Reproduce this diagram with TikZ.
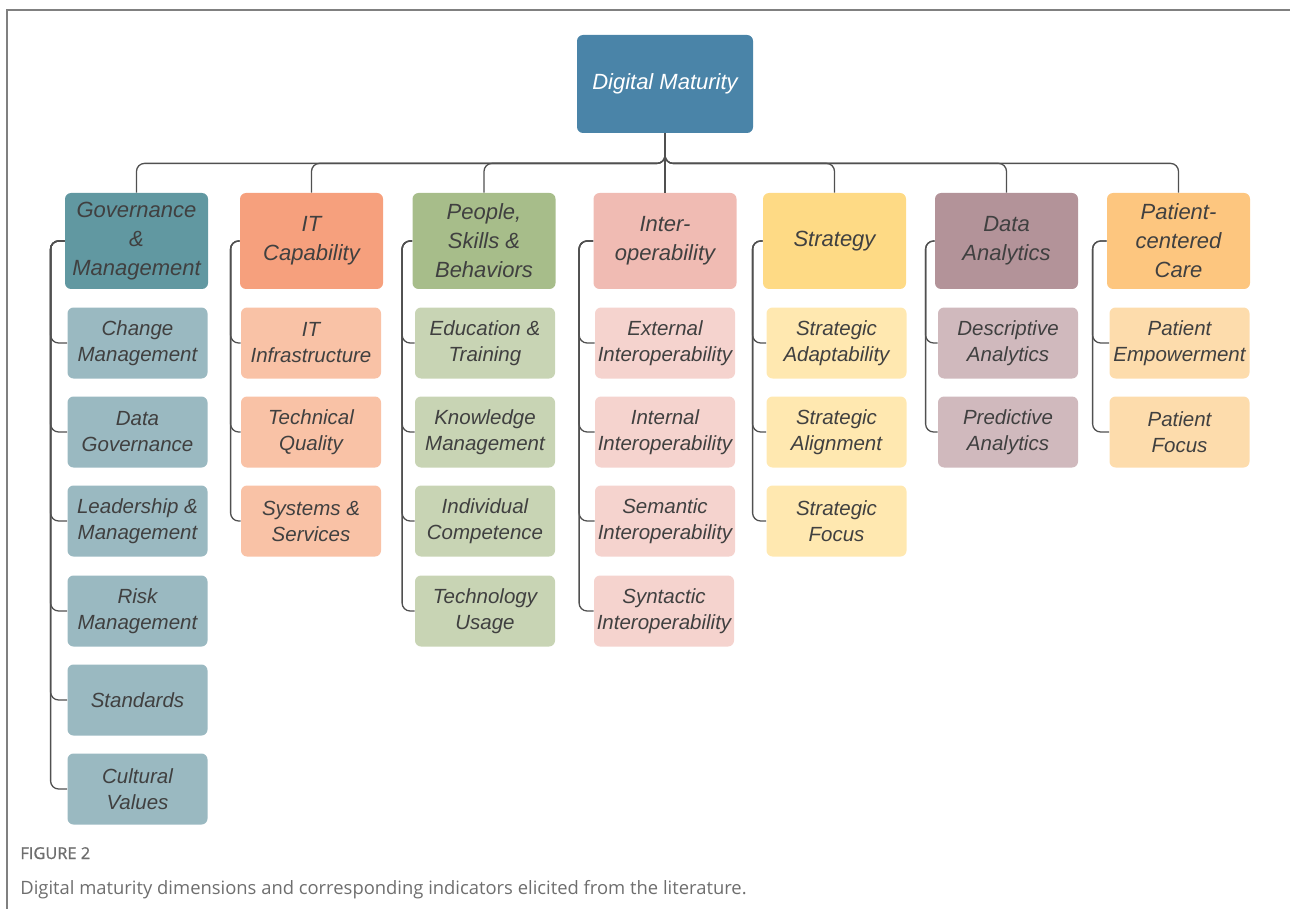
\documentclass[tikz,border=0pt]{standalone}
\usepackage{fontspec}
\setmainfont{Liberation Sans}
\newfontfamily\capfont{Open Sans}
\newfontfamily\capbold[FakeBold=1]{Open Sans}
\definecolor{txt}{HTML}{404040}
\definecolor{linec}{HTML}{505050}
\definecolor{framec}{HTML}{808080}
\definecolor{capc}{HTML}{6E6E6E}
\definecolor{rootc}{HTML}{4A84A8}
\definecolor{gH}{HTML}{6198A1}\definecolor{gK}{HTML}{9AB9C1}
\definecolor{iH}{HTML}{F6A07D}\definecolor{iK}{HTML}{F9C2A6}
\definecolor{pH}{HTML}{A7BD8A}\definecolor{pK}{HTML}{C8D4B4}
\definecolor{oH}{HTML}{F0BBB3}\definecolor{oK}{HTML}{F5D3CE}
\definecolor{sH}{HTML}{FEDA85}\definecolor{sK}{HTML}{FFE8B0}
\definecolor{dH}{HTML}{B39399}\definecolor{dK}{HTML}{D0B9BD}
\definecolor{cH}{HTML}{FDC67F}\definecolor{cK}{HTML}{FDDCAC}
\tikzset{
  rootbox/.style={rounded corners=3pt, fill=rootc, minimum width=88pt, minimum height=49pt,
    inner sep=0pt, align=center, text=white, font=\fontsize{11}{14.5}\selectfont\itshape},
  hdr/.style={rounded corners=3pt, minimum width=71.5pt, minimum height=48pt, inner sep=0pt,
    align=center, text=txt, font=\fontsize{11}{14.5}\selectfont\itshape},
  kid/.style={rounded corners=3pt, minimum width=70pt, minimum height=35.5pt, inner sep=0pt,
    align=center, text=txt, font=\fontsize{10.25}{13}\selectfont\itshape},
  link/.style={draw=linec, line width=0.65pt, rounded corners=4pt},
}
\begin{document}
\begin{tikzpicture}[x=0.5pt,y=-0.5pt]
\useasboundingbox (0,0) rectangle (1290,909);
\draw[framec, line width=0.8pt] (1290,10) -- (7,10) -- (7,909);
% root
\node[rootbox] (root) at (665,84) {\raisebox{2.5pt}{Digital Maturity}};
% headers
\node[hdr, fill=gH] (h1) at (136.5,241) {Governance\\\&\\Management};
\node[hdr, fill=iH] (h2) at (311.5,241) {IT\\Capability};
\node[hdr, fill=pH] (h3) at (484,241) {People,\\Skills \&\\Behaviors};
\node[hdr, fill=oH] (h4) at (665,241) {Inter-\\operability};
\node[hdr, fill=sH] (h5) at (834.5,241) {Strategy};
\node[hdr, fill=dH] (h6) at (1006.5,241) {Data\\Analytics};
\node[hdr, fill=cH] (h7) at (1178.5,241) {Patient-\\centered\\Care};
% root to headers
\foreach \h in {h1,h2,h3,h5,h6,h7}
  \draw[link] (root.south) -- ++(0,30) -| (\h.north);
\draw[link] (root.south) -- (h4.north);
% Governance children
\node[kid, fill=gK] (g1) at (137.5,343) {Change\\Management};
\node[kid, fill=gK] (g2) at (137.5,432) {Data\\Governance};
\node[kid, fill=gK] (g3) at (137.5,521) {Leadership \&\\Management};
\node[kid, fill=gK] (g4) at (137.5,611) {Risk\\Management};
\node[kid, fill=gK] (g5) at (137.5,700) {Standards};
\node[kid, fill=gK] (g6) at (137.5,789) {Cultural\\Values};
\foreach \k in {g1,g2,g3,g4,g5,g6}
  \draw[link] (h1.west) -- ++(-14,0) |- (\k.west);
% IT children
\node[kid, fill=iK] (i1) at (311,343) {IT\\Infrastructure};
\node[kid, fill=iK] (i2) at (311,432) {Technical\\Quality};
\node[kid, fill=iK] (i3) at (311,521) {Systems \&\\Services};
\foreach \k in {i1,i2,i3}
  \draw[link] (h2.west) -- ++(-9,0) |- (\k.west);
% People children
\node[kid, fill=pK] (p1) at (485,343) {Education \&\\Training};
\node[kid, fill=pK] (p2) at (485,432) {Knowledge\\Management};
\node[kid, fill=pK] (p3) at (485,521) {Individual\\Competence};
\node[kid, fill=pK] (p4) at (485,611) {Technology\\Usage};
\foreach \k in {p1,p2,p3,p4}
  \draw[link] (h3.west) -- ++(-10,0) |- (\k.west);
% Interoperability children
\node[kid, fill=oK] (o1) at (665,343) {External\\Interoperability};
\node[kid, fill=oK] (o2) at (665,432) {Internal\\Interoperability};
\node[kid, fill=oK] (o3) at (665,521) {Semantic\\Interoperability};
\node[kid, fill=oK] (o4) at (664,611) {Syntactic\\Interoperability};
\foreach \k in {o1,o2,o3,o4}
  \draw[link] (h4.west) -- ++(-14,0) |- (\k.west);
% Strategy children
\node[kid, fill=sK] (s1) at (836.5,343) {Strategic\\Adaptability};
\node[kid, fill=sK] (s2) at (836.5,432) {Strategic\\Alignment};
\node[kid, fill=sK] (s3) at (836.5,521) {Strategic\\Focus};
\foreach \k in {s1,s2,s3}
  \draw[link] (h5.west) -- ++(-10,0) |- (\k.west);
% Data Analytics children
\node[kid, fill=dK] (d1) at (1008,343) {Descriptive\\Analytics};
\node[kid, fill=dK] (d2) at (1008,432) {Predictive\\Analytics};
\foreach \k in {d1,d2}
  \draw[link] (h6.west) -- ++(-9,0) |- (\k.west);
% Patient-centered children
\node[kid, fill=cK] (c1) at (1179.5,343) {Patient\\Empowerment};
\node[kid, fill=cK] (c2) at (1179.5,432) {Patient\\Focus};
\foreach \k in {c1,c2}
  \draw[link] (h7.west) -- ++(-14,0) |- (\k.west);
% caption
\node[anchor=base west, inner sep=0pt, text=capc, font=\capbold\fontsize{8.2}{10}\selectfont] (figlab) at (20,859) {FIGURE 2};
\node[anchor=base west, inner sep=0pt, text=capc, font=\capfont\fontsize{9.2}{10}\selectfont] (figcap) at (20,894) {Digital maturity dimensions and corresponding indicators elicited from the literature.};
\end{tikzpicture}
\end{document}
